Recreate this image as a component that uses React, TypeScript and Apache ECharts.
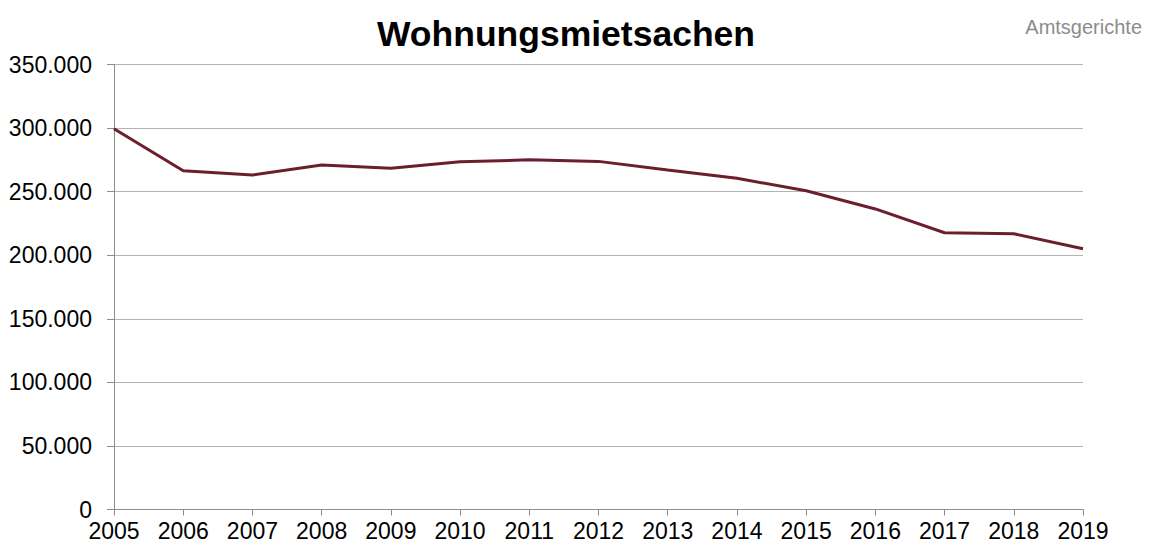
import React, { useEffect, useRef } from "react";
import * as echarts from "echarts";

const years = ["2005", "2006", "2007", "2008", "2009", "2010", "2011", "2012", "2013", "2014", "2015", "2016", "2017", "2018", "2019"];
const values = [299500, 266500, 263100, 271000, 268400, 273500, 275000, 273800, 267000, 260500, 250700, 236400, 217700, 216900, 205100];
const yTicks = { min: 0, max: 350000, interval: 50000 };

const fmt = (v: number) => String(v).replace(/\B(?=(\d{3})+(?!\d))/g, ".");

export default function App() {
  const ref = useRef<HTMLDivElement>(null);
  useEffect(() => {
    if (!ref.current) return;
    const chart = echarts.init(ref.current, undefined, { renderer: "svg" });
    const font = "'Liberation Sans', Arial, sans-serif";
    chart.setOption({
      animation: false,
      textStyle: { fontFamily: font },
      title: [
        {
          text: "Wohnungsmietsachen",
          left: 561,
          textAlign: "center",
          top: 11,
          textStyle: { fontSize: 35.5, fontWeight: "bold", color: "#000", fontFamily: font },
        },
        {
          text: "Amtsgerichte",
          right: 22,
          top: 12,
          textStyle: { fontSize: 20, fontWeight: "normal", color: "#8c8c8c", fontFamily: font },
        },
      ],
      grid: { left: 114, right: 86, top: 64.5, bottom: 39.5, containLabel: false },
      xAxis: {
        type: "category",
        data: years,
        boundaryGap: false,
        axisLine: { lineStyle: { color: "#8c8c8c", width: 1 } },
        axisTick: { show: true, length: 6, lineStyle: { color: "#8c8c8c" } },
        axisLabel: { color: "#000", fontSize: 23, margin: 10, fontFamily: font },
        splitLine: { show: false },
      },
      yAxis: {
        type: "value",
        min: yTicks.min,
        max: yTicks.max,
        interval: yTicks.interval,
        axisLine: { show: true, lineStyle: { color: "#8c8c8c", width: 1 } },
        axisTick: { show: true, length: 7, lineStyle: { color: "#8c8c8c" } },
        axisLabel: { color: "#000", fontSize: 23, margin: 22, formatter: (v: number) => fmt(v), fontFamily: font },
        splitLine: { show: true, lineStyle: { color: "#b3b3b3", width: 1 } },
      },
      series: [
        {
          type: "line",
          data: values,
          symbol: "none",
          lineStyle: { color: "#6b1f2c", width: 3 },
        },
      ],
    });
    return () => chart.dispose();
  }, []);
  return <div ref={ref} style={{ width: 1169, height: 549, position: "absolute", left: 0, top: 0 }} />;
}
